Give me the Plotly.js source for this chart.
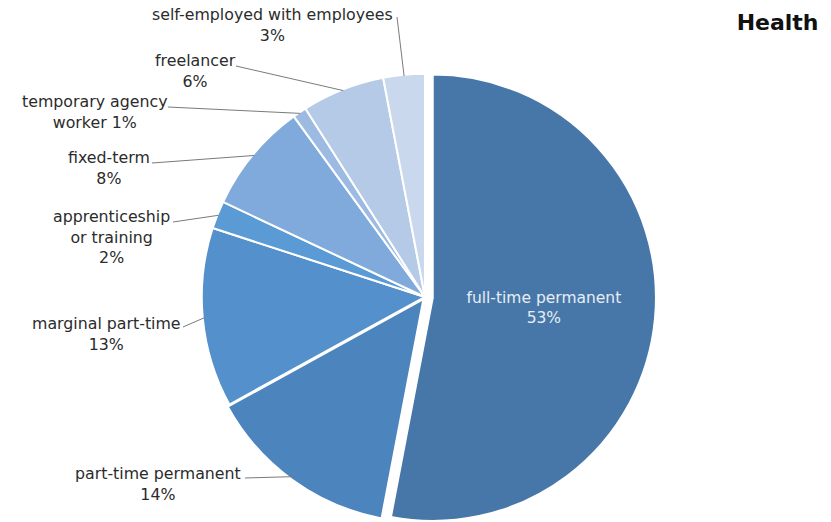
<!DOCTYPE html>
<html>
<head>
<meta charset="utf-8">
<script src="https://cdn.plot.ly/plotly-3.0.1.min.js"></script>
<style>
html,body{margin:0;padding:0;overflow:hidden;background:#fff;}
#chart{width:831px;height:540px;}
</style>
</head>
<body>
<div id="chart"></div>
<script>
const categories = ['full-time permanent','part-time permanent','marginal part-time','apprenticeship<br>or training','fixed-term','temporary agency<br>worker','freelancer','self-employed with employees'];
const values = [53,14,13,2,8,1,6,3];
const separators = ['<br>','<br>','<br>','<br>','<br>',' ','<br>','<br>'];
const colors = ['#4777a8','#4c84bd','#5490cb','#5a9bd5','#7faadb','#9dbbe2','#b5cae7','#c9d8ed'];
const pulls = [0.035,0.012,0,0,0,0,0,0];

// label layout (pixel positions of outside label centres and leader-line starts)
const labelPos = [null,[158,484],[106,334],[112,237],[109,168],[95,112],[195,71],[272,25]];
const leaderStart = [null,[245,478],[183,327],[173,222],[152,163],[168,107],[236,66],[397,17]];

const W = 831, H = 540;
const cx = 425, cy = 297, R = 222;
const FONT = 'DejaVu Sans, Verdana, sans-serif';

const text = categories.map((c,i)=> c + separators[i] + values[i] + '%');
const total = values.reduce((a,b)=>a+b,0);

const px = x => x / W;
const py = y => 1 - y / H;

const annotations = [];
const shapes = [];
let cum = 0;
values.forEach((v,i)=>{
  const mid = (cum + v/2) / total * 2 * Math.PI;
  cum += v;
  if (i === 0) return;
  const tx = cx + R * Math.sin(mid);
  const ty = cy - R * Math.cos(mid);
  annotations.push({
    xref:'paper', yref:'paper', x:px(labelPos[i][0]), y:py(labelPos[i][1]),
    xanchor:'center', yanchor:'middle', align:'center', showarrow:false,
    text:text[i], font:{family:FONT, size:15.8, color:'#2b2b2b'}
  });
  shapes.push({
    type:'path', xref:'paper', yref:'paper',
    path:'M ' + px(leaderStart[i][0]) + ' ' + py(leaderStart[i][1]) + ' L ' + px(tx) + ' ' + py(ty),
    line:{color:'#7a7a7a', width:1}
  });
});

const trace = {
  type:'pie',
  values: values,
  labels: categories,
  text: text.map((t,i)=> i===0 ? t : ''),
  textinfo:'text',
  sort:false,
  direction:'clockwise',
  rotation:0,
  pull:pulls,
  marker:{colors:colors, line:{color:'#ffffff', width:2}},
  textposition:'inside',
  insidetextorientation:'horizontal',
  insidetextfont:{color:'#e6edf5', size:15.5, family:FONT},
  hoverinfo:'none',
  domain:{x:[0.2334,0.7894], y:[0.0222,0.8778]},
  automargin:false
};

const layout = {
  width:W, height:H,
  margin:{l:0,r:0,t:0,b:0},
  paper_bgcolor:'#ffffff',
  showlegend:false,
  annotations: annotations,
  shapes: shapes,
  title:{text:'<b>Health</b>', x:0.985, xanchor:'right', y:0.959, yanchor:'middle',
    font:{family:FONT, size:22, color:'#111111'}}
};

Plotly.newPlot('chart',[trace],layout,{displayModeBar:false,staticPlot:true});
</script>
</body>
</html>
